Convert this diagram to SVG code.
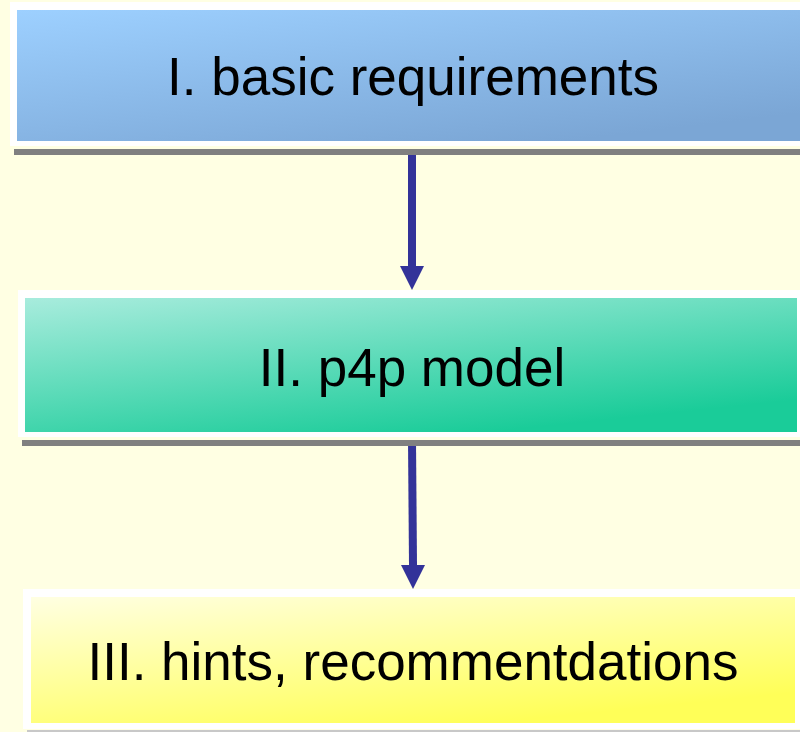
<svg xmlns="http://www.w3.org/2000/svg" width="800" height="732" viewBox="0 0 800 732">
<defs>
<linearGradient id="g1" x1="0" y1="0" x2="0.7" y2="1"><stop offset="0" stop-color="#9dd0ff"/><stop offset="1" stop-color="#7ba6d5"/></linearGradient>
<linearGradient id="g2" x1="0" y1="0" x2="0.6" y2="1"><stop offset="0" stop-color="#a8ecdd"/><stop offset="1" stop-color="#1acc99"/></linearGradient>
<linearGradient id="g3" x1="0" y1="0" x2="0.6" y2="1"><stop offset="0" stop-color="#ffffe2"/><stop offset="1" stop-color="#ffff58"/></linearGradient>
<style>
.t{font-family:"Liberation Sans",Arial,sans-serif;font-size:53px;fill:#000;text-anchor:middle}
.frame{fill:#fff}
.shadow{fill:#808080}
.c{stroke:#333399;stroke-width:8;fill:none}
.h{fill:#333399}
</style>
</defs>
<rect width="800" height="732" fill="#ffffe3"/>
<g id="connectors">
<line class="c" x1="412" y1="149" x2="412" y2="266"/>
<path class="h" d="M400,266 L424,266 L412,290 Z"/>
<line class="c" x1="412" y1="440" x2="413" y2="565"/>
<path class="h" d="M401,565 L425,565 L413,589 Z"/>
</g>
<g id="node1">
<rect class="shadow" x="14" y="149" width="786" height="6"/>
<rect class="frame" x="10" y="2" width="790" height="144"/>
<rect x="17" y="10" width="783" height="131" fill="url(#g1)"/>
<text class="t" x="413" y="95">I. basic requirements</text>
</g>
<g id="node2">
<rect class="shadow" x="22" y="440" width="778" height="6"/>
<rect class="frame" x="18" y="290" width="782" height="147"/>
<rect x="25" y="298" width="772" height="134" fill="url(#g2)"/>
<text class="t" x="412" y="386">II. p4p model</text>
</g>
<g id="node3">
<rect x="27" y="730" width="773" height="2" fill="#c8c8c8"/>
<rect class="frame" x="23" y="589" width="777" height="140"/>
<rect x="31" y="597" width="764" height="126" fill="url(#g3)"/>
<text class="t" x="413" y="680">III. hints, recommentdations</text>
</g>
</svg>
